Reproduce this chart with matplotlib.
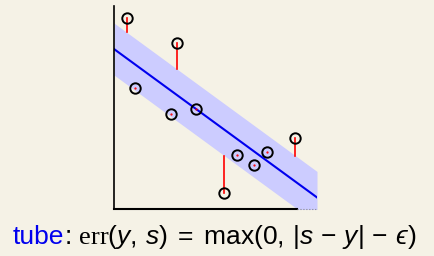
import numpy as np
import matplotlib
matplotlib.use('Agg')
import matplotlib.pyplot as plt

# regression data (axis units 0..10)
x_pts = [0.61, 1.03, 3.09, 2.80, 4.03, 5.43, 6.05, 6.91, 7.52, 8.93]
y_pts = [9.39, 5.98, 8.19, 4.66, 4.93, 0.77, 2.67, 2.17, 2.79, 3.48]
intercept = 7.87
slope = -0.73
eps = 1.28

bg = '#f5f2e6'
plt.rcParams['mathtext.fontset'] = 'custom'
plt.rcParams['mathtext.rm'] = 'Liberation Sans'
plt.rcParams['mathtext.it'] = 'Liberation Sans:italic'
plt.rcParams['mathtext.sf'] = 'Liberation Serif'

fig = plt.figure(figsize=(4.34, 2.56), dpi=100, facecolor=bg)
ax = fig.add_axes([114.3 / 434, 47 / 256, 202.7 / 434, 203 / 256])
ax.set_facecolor(bg)
ax.set_xlim(0, 10)
ax.set_ylim(0, 10)

xs = np.array([0, 10])
line = intercept + slope * xs
ax.fill_between(xs, line - eps, line + eps, color='#ccccff', lw=0)
ax.plot(xs, line, color='#0000ee', lw=1.5)

for x, y in zip(x_pts, y_pts):
    f = intercept + slope * x
    if y > f + eps:
        ax.plot([x, x], [f + eps, y], color='red', lw=1.2)
    elif y < f - eps:
        ax.plot([x, x], [y, f - eps], color='red', lw=1.2)
    else:
        ax.plot(x, y, marker='.', color='red', ms=1.2)
ax.plot(x_pts, y_pts, 'o', mfc='none', mec='black', mew=1.4, ms=7.5)

for s in ['top', 'right', 'bottom']:
    ax.spines[s].set_visible(False)
ax.spines['left'].set_linewidth(1.2)
ax.plot([0, 9.0], [0, 0], color='black', lw=1.5, clip_on=False)
ax.plot([9.0, 10], [0, 0], color='#888888', lw=0.8, ls=':', clip_on=False)
ax.set_xticks([])
ax.set_yticks([])

# caption
ty = (256 - 237) / 256
t1 = fig.text(12.7 / 434, ty, 'tube', color='#0000ee', fontsize=19,
              family='Liberation Sans', va='center', ha='left')
fig.canvas.draw()
bb = t1.get_window_extent()
fig.text(bb.x1 / 434, ty,
         r': $\mathsf{err}(y,\, s) \;=\; \mathrm{max}(0,\, |s \,-\, y| \,-\, ϵ)$',
         color='black', fontsize=19, family='Liberation Sans',
         va='center', ha='left')

fig.savefig('out.png', dpi=100, facecolor=bg)
